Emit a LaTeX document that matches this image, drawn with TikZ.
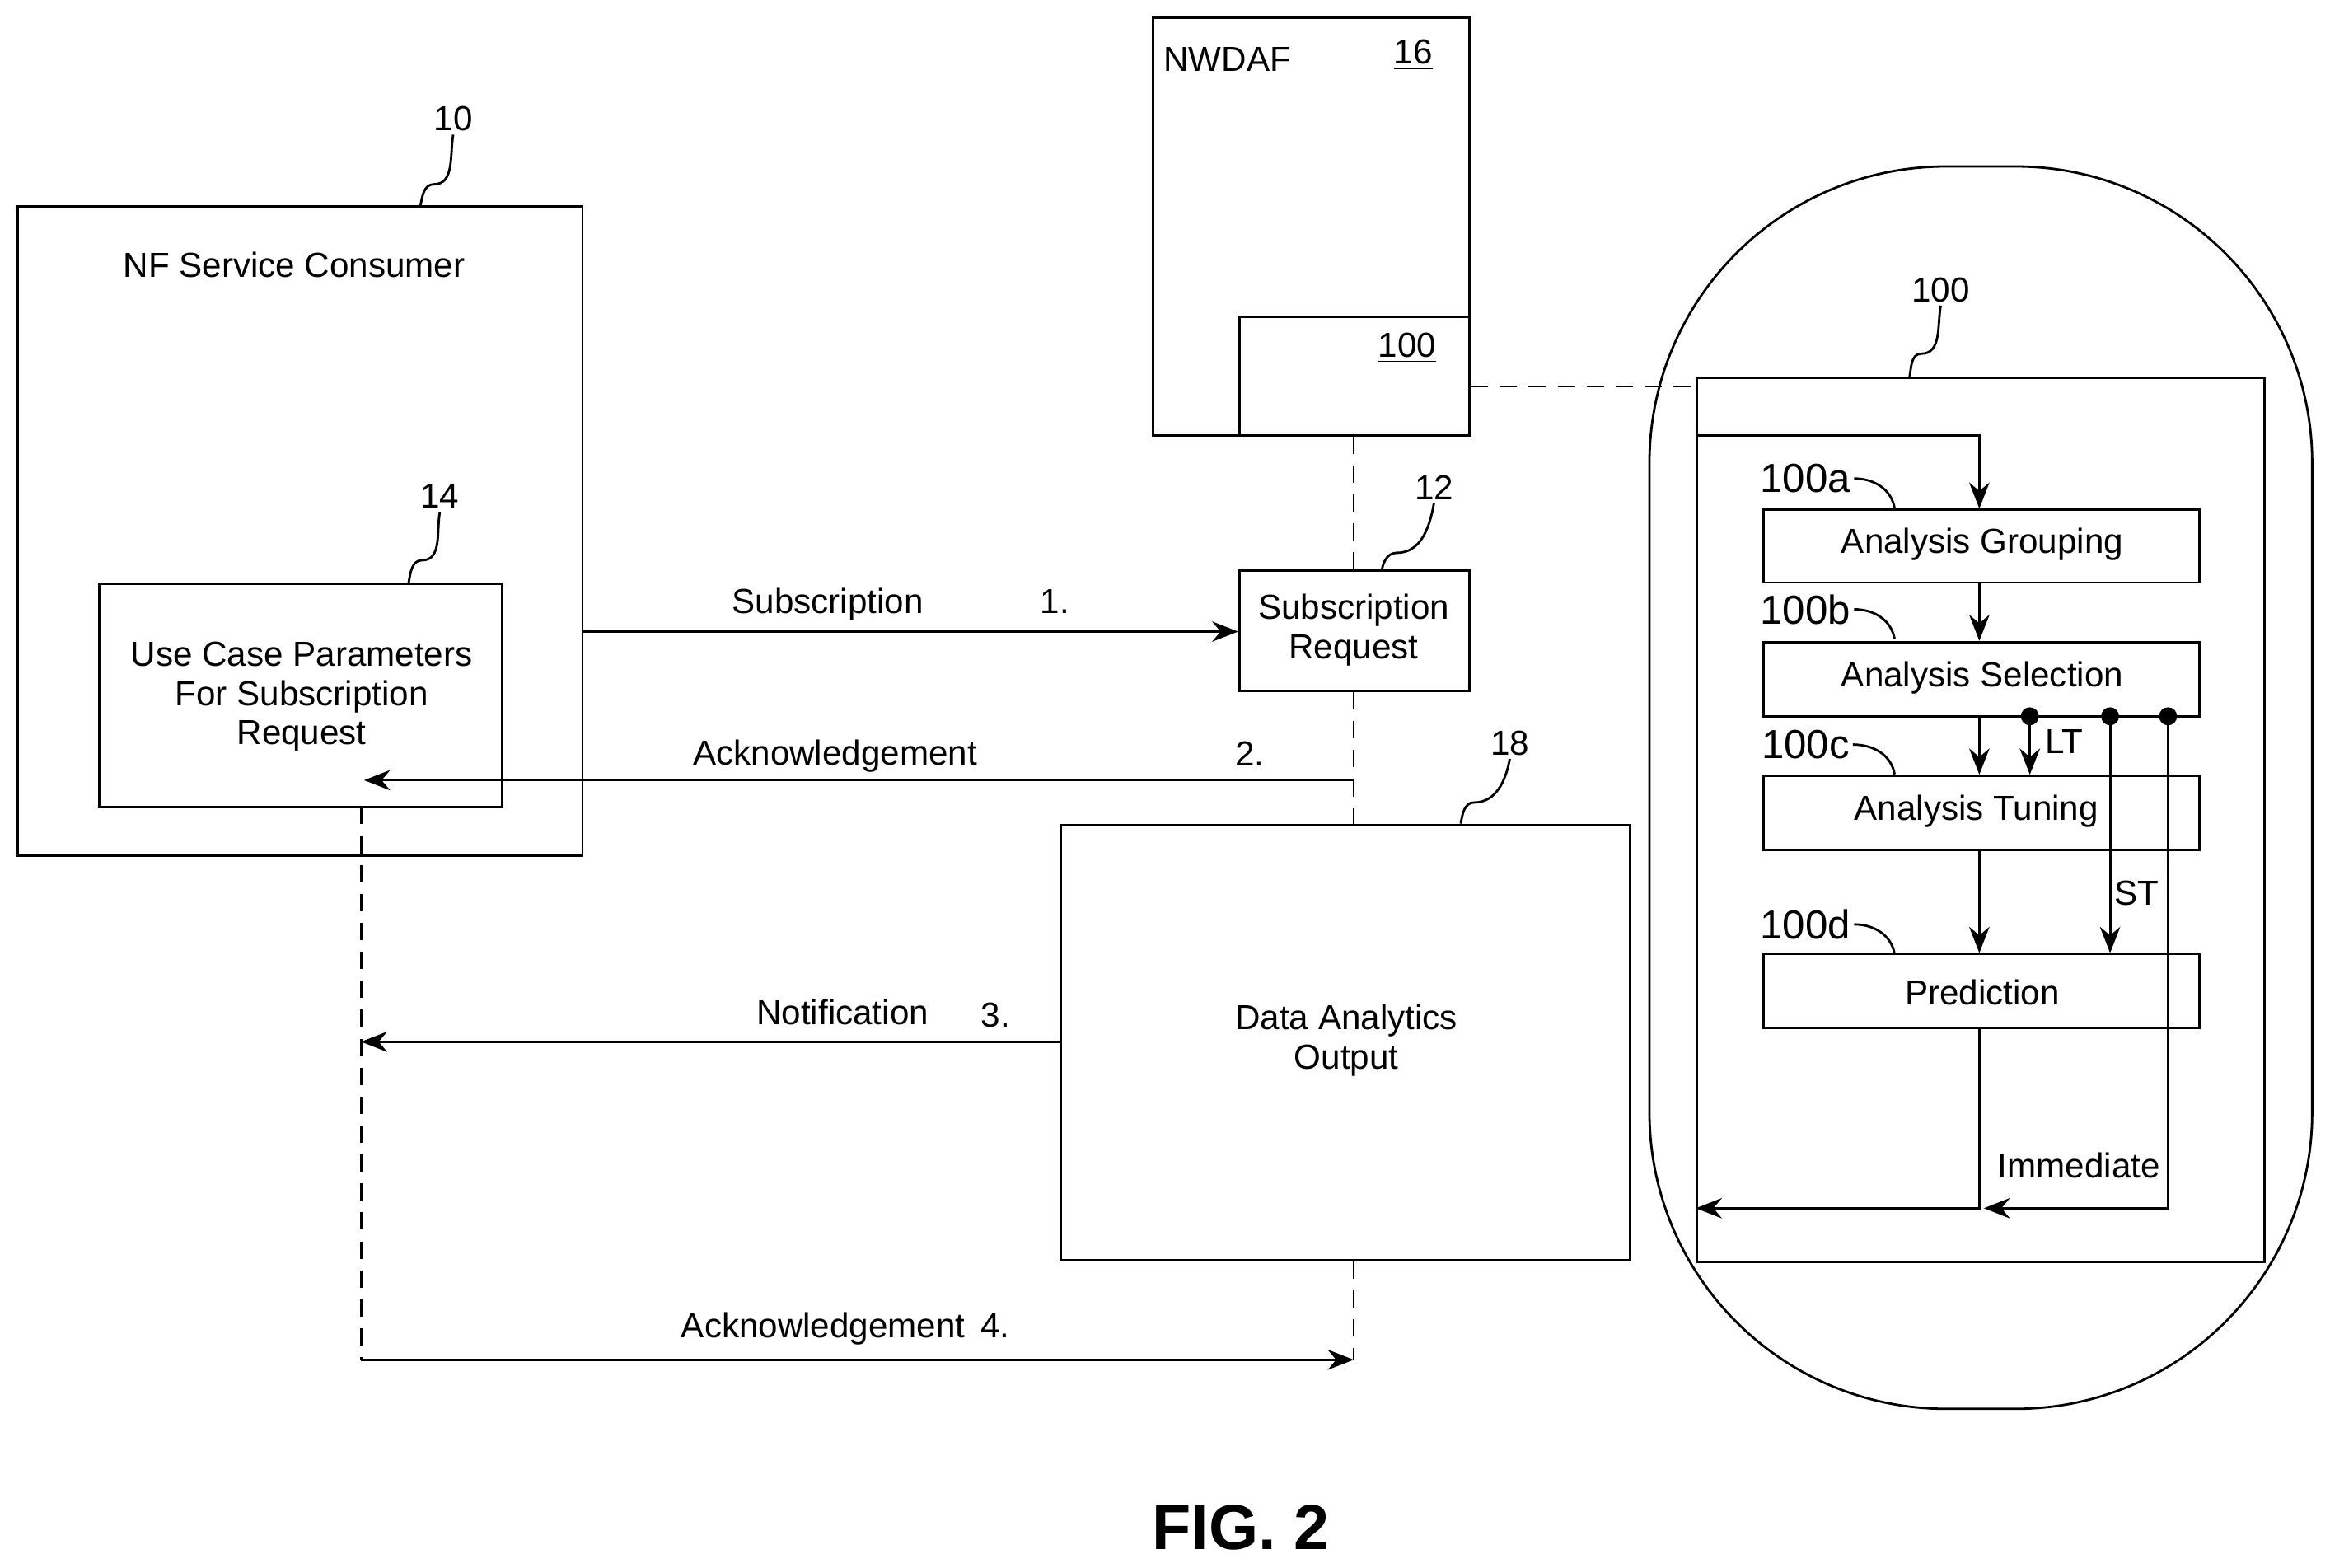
\documentclass[tikz,border=0pt]{standalone}
\usepackage{fontspec}
\setmainfont{Liberation Sans}
\usetikzlibrary{arrows.meta, fit, calc}
\tikzset{
  box/.style={draw, thick, inner sep=0pt, align=center},
  flowarrow/.style={thick, -{Stealth[length=9pt,width=7pt]}},
  dashline/.style={thick, dash pattern=on 6pt off 4pt},
  leader/.style={thick},
  lbl/.style={font=\fontsize{12}{13.5}\selectfont, inner sep=1pt},
  dot/.style={circle, fill, inner sep=2.2pt}
}
\begin{document}
\begin{tikzpicture}[x=0.018036cm, y=-0.018036cm, font=\fontsize{12}{13.5}\selectfont]
  \useasboundingbox (0,0) rectangle (1568,1055);
  % left side
  \node[box, fit={(12,139) (392,576)}] (nf) {};
  \node[lbl] at (198,178) {NF Service Consumer};
  \node[box, fit={(67,393) (338,543)}] (ucp) {};
  \node[lbl, align=center] at (203,469) {Use Case Parameters\\For Subscription\\Request};
  % NWDAF
  \node[box, fit={(776,12) (989,293)}] (nwdaf) {};
  \node[lbl] at (826,40) {NWDAF};
  \node[lbl] at (951,37) {\underline{16}};
  \node[box, fit={(834,213) (989,293)}] (nw100) {};
  \node[lbl] at (947,234) {\underline{100}};
  \node[box, fit={(834,384) (989,465)}] (subreq) {};
  \node[lbl, align=center] at (911,424) {Subscription\\Request};
  \node[box, fit={(714,555) (1097,848)}] (dao) {};
  \node[lbl, align=center] at (906,700) {Data Analytics\\Output};
  % reference numerals
  \node[lbl] (r10) at (305,80) {10};
  \node[lbl] (r14) at (296,334) {14};
  \node[lbl] (r12) at (965,328) {12};
  \node[lbl] (r18) at (1016,500) {18};
  \node[lbl] (r100) at (1306,195) {100};
  \draw[leader] (r10.south) to[out=-100,in=0] (292,124) to[out=180,in=80] (nf.north -| 283,0);
  \draw[leader] (r14.south) to[out=-100,in=0] (284,377) to[out=180,in=80] (ucp.north -| 275,0);
  \draw[leader] (r12.south) to[out=-100,in=0] (940,372) to[out=180,in=80] (subreq.north -| 930,0);
  \draw[leader] (r18.south) to[out=-100,in=0] (992,540) to[out=180,in=80] (dao.north -| 983,0);
  \draw[leader] (r100.south) to[out=-100,in=0] (1293,238) to[out=180,in=80] (1285,254);
  % dashed links
  \coordinate (c2) at (911,525);
  \coordinate (c4) at (911,915);
  \coordinate (u1) at (243,543);
  \coordinate (u3) at (243,701);
  \coordinate (u4) at (243,915);
  \draw[dashline] (nw100.south -| 911,0) -- (subreq.north -| 911,0);
  \draw[dashline] (subreq.south -| 911,0) -- (dao.north -| 911,0);
  \draw[dashline] (dao.south -| 911,0) -- (c4);
  \draw[dashline] (u1) -- (u4);
  % messages
  \draw[flowarrow] (nf.east |- 0,425) -- (subreq.west |- 0,425);
  \node[lbl] at (557,407) {Subscription};
  \node[lbl] at (710,405) {1.};
  \draw[flowarrow] (c2) -- (245,525);
  \node[lbl] at (562,509) {Acknowledgement};
  \node[lbl] at (841,507) {2.};
  \draw[flowarrow] (dao.west |- u3) -- (u3);
  \node[lbl] at (567,681) {Notification};
  \node[lbl] at (670,683) {3.};
  \draw[flowarrow] (u4) -- (c4);
  \node[lbl] at (569,894) {Acknowledgement\, 4.};
  % detail of 100
  \draw[thick, rounded corners=3.6cm] (1110,112) rectangle (1556,948);
  \node[box, fit={(1142,254) (1524,849)}] (det) {};
  \draw[dashline] (nw100.east |- 0,260) -- (det.west |- 0,260);
  \node[box, fit={(1187,343) (1480,392)}] (ag) {};
  \node[lbl] at (1334,366) {Analysis Grouping};
  \node[box, fit={(1187,432) (1480,482)}] (as) {};
  \node[lbl] at (1334,456) {Analysis Selection};
  \node[box, fit={(1187,522) (1480,572)}] (at) {};
  \node[lbl] at (1330,546) {Analysis Tuning};
  \node[box, fit={(1187,642) (1480,692)}] (pr) {};
  \node[lbl] at (1334,668) {Prediction};
  \foreach \t/\yy in {a/322, b/410, c/501, d/622} {
    \node[lbl, font=\fontsize{14}{15}\selectfont] (l\t) at (1215,\yy) {100\t};
    \draw[leader] (l\t.east) to[out=0,in=100] (1275,\yy+20);
  }
  \draw[flowarrow] (det.west |- 0,293) -| (ag.north -| 1332,0);
  \draw[flowarrow] (ag.south -| 1332,0) -- (as.north -| 1332,0);
  \draw[flowarrow] (as.south -| 1332,0) -- (at.north -| 1332,0);
  \draw[flowarrow] (at.south -| 1332,0) -- (pr.north -| 1332,0);
  \node[dot] (d1) at (1366,482) {};
  \node[dot] (d2) at (1420,482) {};
  \node[dot] (d3) at (1459,482) {};
  \draw[flowarrow] (d1.center) -- (at.north -| d1);
  \draw[flowarrow] (d2.center) -- (pr.north -| d2);
  \coordinate (join) at (1335,813);
  \draw[flowarrow] (d3.center) |- (join);
  \draw[flowarrow] (pr.south -| 1332,0) |- (det.west |- 0,813);
  \node[lbl] at (1389,499) {LT};
  \node[lbl] at (1438,601) {ST};
  \node[lbl] at (1399,784) {Immediate};
  \node[font=\bfseries\fontsize{22}{24}\selectfont] (fig) at (835,1028) {FIG. 2};
\end{tikzpicture}
\end{document}
